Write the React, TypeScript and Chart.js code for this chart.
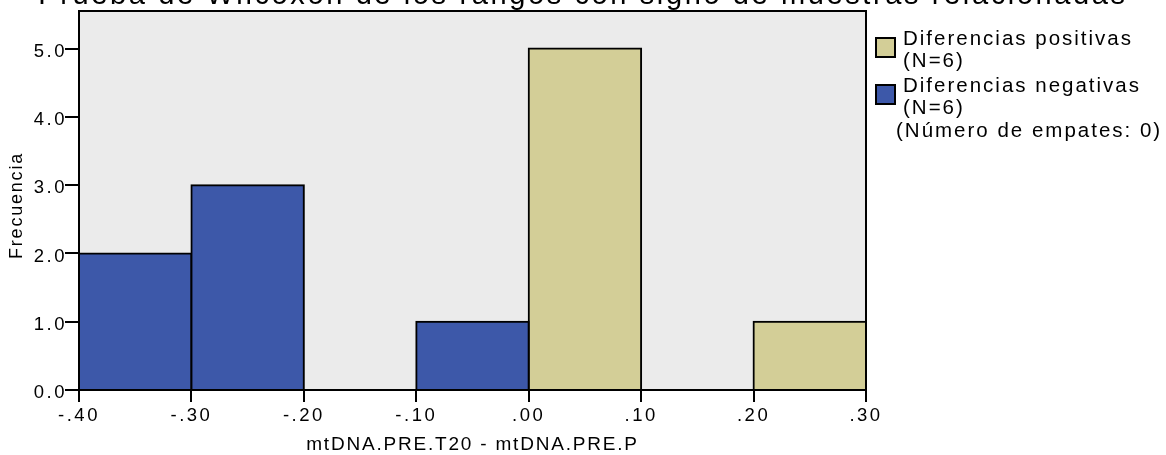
import React, { useEffect, useRef } from 'react';
import { Chart, registerables } from 'chart.js';

Chart.register(...registerables);

const chartTitle = 'Prueba de Wilcoxon de los rangos con signo de muestras relacionadas';
const binCenters = [-0.35, -0.25, -0.15, -0.05, 0.05, 0.15, 0.25];
const negativeCounts = [2, 3, 0, 1, 0, 0, 0];
const positiveCounts = [0, 0, 0, 0, 5, 0, 1];
const xTickValues = [-0.4, -0.3, -0.2, -0.1, 0, 0.1, 0.2, 0.3];
const xTickLabels = ['-.40', '-.30', '-.20', '-.10', '.00', '.10', '.20', '.30'];
const yTickValues = [0, 1, 2, 3, 4, 5];
const yTickLabels = ['0.0', '1.0', '2.0', '3.0', '4.0', '5.0'];
const positiveLabel = ['Diferencias positivas', '(N=6)'];
const negativeLabel = ['Diferencias negativas', '(N=6)'];
const tiesNote = '(Número de empates: 0)';
const xTitle = 'mtDNA.PRE.T20 - mtDNA.PRE.P';
const yTitle = 'Frecuencia';

const FONT = '"Liberation Sans", Arial, Helvetica, sans-serif';
const TAN = '#D3CE97';
const BLUE = '#3D58A9';
const PLOT_BG = '#EBEBEB';
const TICK_LS = '2.5px';

function labelFor(values: number[], labels: string[], v: number): string {
  const i = values.findIndex((t) => Math.abs(t - v) < 1e-9);
  return i >= 0 ? labels[i] : '';
}

const decorPlugin = {
  id: 'decor',
  beforeLayout(chart: any) {
    (chart.ctx as any).letterSpacing = TICK_LS;
  },
  beforeDraw(chart: any) {
    const ctx = chart.ctx;
    const a = chart.chartArea;
    ctx.save();
    ctx.fillStyle = '#FFFFFF';
    ctx.fillRect(0, 0, chart.width, chart.height);
    ctx.fillStyle = PLOT_BG;
    ctx.fillRect(a.left, a.top, a.right - a.left, a.bottom - a.top);
    ctx.restore();
    (ctx as any).letterSpacing = TICK_LS;
  },
  afterDatasetsDraw(chart: any) {
    const ctx = chart.ctx;
    const a = chart.chartArea;
    ctx.save();
    ctx.strokeStyle = '#000';
    ctx.lineWidth = 2;
    ctx.strokeRect(a.left, a.top, a.right - a.left, a.bottom - a.top);
    ctx.restore();
  },
  afterDraw(chart: any) {
    const ctx = chart.ctx;
    const a = chart.chartArea;
    ctx.save();
    ctx.fillStyle = '#000';

    // Title (partially cut off at the top)
    let f = 30;
    ctx.font = `${f}px ${FONT}`;
    (ctx as any).letterSpacing = `${(0.09 * f).toFixed(2)}px`;
    const w0 = ctx.measureText(chartTitle).width;
    f = (f * 1090) / w0;
    ctx.font = `${f}px ${FONT}`;
    (ctx as any).letterSpacing = `${(0.09 * f).toFixed(2)}px`;
    ctx.textAlign = 'center';
    ctx.textBaseline = 'alphabetic';
    ctx.fillText(chartTitle, chart.width / 2, 4);

    // X axis title
    ctx.font = `19px ${FONT}`;
    (ctx as any).letterSpacing = '1.8px';
    ctx.textAlign = 'center';
    ctx.fillText(xTitle, (a.left + a.right) / 2, 450);

    // Y axis title
    ctx.save();
    ctx.font = `18px ${FONT}`;
    (ctx as any).letterSpacing = '1.8px';
    ctx.translate(22, (a.top + a.bottom) / 2 + 5);
    ctx.rotate(-Math.PI / 2);
    ctx.textAlign = 'center';
    ctx.textBaseline = 'alphabetic';
    ctx.fillText(yTitle, 0, 0);
    ctx.restore();

    // Legend
    const items = [
      { color: TAN, lines: positiveLabel, boxY: 38 },
      { color: BLUE, lines: negativeLabel, boxY: 85 },
    ];
    ctx.font = `20.5px ${FONT}`;
    (ctx as any).letterSpacing = '2px';
    ctx.textAlign = 'left';
    ctx.textBaseline = 'alphabetic';
    items.forEach((it) => {
      ctx.fillStyle = it.color;
      ctx.fillRect(876, it.boxY, 19, 19);
      ctx.strokeStyle = '#000';
      ctx.lineWidth = 2;
      ctx.strokeRect(876, it.boxY, 19, 19);
      ctx.fillStyle = '#000';
      ctx.fillText(it.lines[0], 903, it.boxY + 7);
      ctx.fillText(it.lines[1], 903, it.boxY + 29);
    });
    ctx.fillText(tiesNote, 896, 137);
    ctx.restore();
  },
};

export default function App() {
  const canvasRef = useRef<HTMLCanvasElement | null>(null);

  useEffect(() => {
    document.body.style.margin = '0';
    const canvas = canvasRef.current;
    if (!canvas) return;

    const negData = binCenters
      .map((x, i) => ({ x, y: negativeCounts[i] }))
      .filter((p) => p.y > 0);
    const posData = binCenters
      .map((x, i) => ({ x, y: positiveCounts[i] }))
      .filter((p) => p.y > 0);

    const chart = new Chart(canvas, {
      type: 'bar',
      data: {
        datasets: [
          {
            label: 'Diferencias negativas',
            data: negData as any,
            backgroundColor: BLUE,
            borderColor: '#000',
            borderWidth: 2,
            inflateAmount: 1,
            barPercentage: 1,
            categoryPercentage: 1,
            grouped: false,
          } as any,
          {
            label: 'Diferencias positivas',
            data: posData as any,
            backgroundColor: TAN,
            borderColor: '#000',
            borderWidth: 2,
            inflateAmount: 1,
            barPercentage: 1,
            categoryPercentage: 1,
            grouped: false,
          } as any,
        ],
      },
      options: {
        animation: false,
        responsive: false,
        devicePixelRatio: 1,
        layout: { padding: { top: 11, right: 300, left: 0, bottom: 0 } },
        plugins: {
          legend: { display: false },
          title: { display: false },
          tooltip: { enabled: false },
        },
        scales: {
          x: {
            type: 'linear',
            min: -0.4,
            max: 0.3,
            offset: false,
            afterBuildTicks: (scale: any) => {
              scale.ticks = xTickValues.map((v) => ({ value: v }));
            },
            afterFit: (scale: any) => {
              scale.height = 65;
            },
            ticks: {
              color: '#000',
              font: { family: FONT, size: 18.5 },
              padding: 3,
              maxRotation: 0,
              autoSkip: false,
              callback: (v: any) => labelFor(xTickValues, xTickLabels, Number(v)),
            },
            grid: {
              offset: false,
              drawOnChartArea: false,
              drawTicks: true,
              tickLength: 12,
              color: '#000',
              tickColor: '#000',
              lineWidth: 2,
              tickWidth: 2,
            },
            border: { display: true, color: '#000', width: 2 },
          } as any,
          y: {
            type: 'linear',
            min: 0,
            max: 5.55,
            afterBuildTicks: (scale: any) => {
              scale.ticks = yTickValues.map((v) => ({ value: v }));
            },
            afterFit: (scale: any) => {
              scale.width = 79;
            },
            ticks: {
              color: '#000',
              font: { family: FONT, size: 18.5 },
              padding: -2,
              labelOffset: 3,
              autoSkip: false,
              callback: (v: any) => labelFor(yTickValues, yTickLabels, Number(v)),
            },
            grid: {
              drawOnChartArea: false,
              drawTicks: true,
              tickLength: 14,
              color: '#000',
              tickColor: '#000',
              lineWidth: 2,
              tickWidth: 2,
            },
            border: { display: true, color: '#000', width: 2 },
          } as any,
        },
      },
      plugins: [decorPlugin],
    });

    return () => {
      chart.destroy();
    };
  }, []);

  return (
    <div style={{ width: 1166, height: 455 }}>
      <canvas ref={canvasRef} width={1166} height={455} style={{ display: 'block' }} />
    </div>
  );
}
